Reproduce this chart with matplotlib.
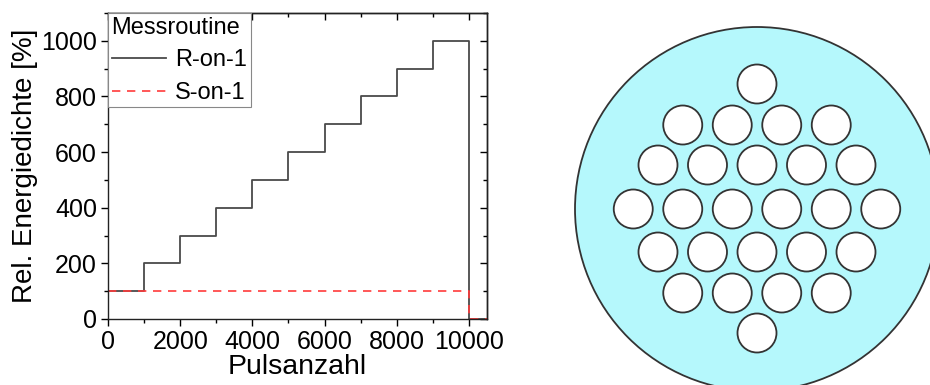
import matplotlib.pyplot as plt
from matplotlib.patches import Circle
from matplotlib.ticker import MultipleLocator

plt.rcParams["font.family"] = ["Liberation Sans", "DejaVu Sans"]

# pulse counts at which the energy level changes, last entry closes the x range
pulses = [0, 1000, 2000, 3000, 4000, 5000, 6000, 7000, 8000, 9000, 10000, 10500]
r_on_1 = [100, 200, 300, 400, 500, 600, 700, 800, 900, 1000, 0, 0]
s_on_1 = [100, 100, 100, 100, 100, 100, 100, 100, 100, 100, 0, 0]

# hole pattern of the sample: holes per row and vertical offset of each row
hole_rows = [1, 4, 5, 6, 5, 4, 1]
row_y = [-125, -84, -44, 0, 43, 84, 124]

fig = plt.figure(figsize=(9.3, 3.85), dpi=100)
ax = fig.add_axes([108 / 930, 66 / 385, 379 / 930, 306 / 385])

ax.plot(pulses, r_on_1, drawstyle="steps-post", color="#4a4a4a", lw=1.3, label="R-on-1")
ax.plot(pulses, s_on_1, drawstyle="steps-post", color="#ff3b3b", lw=1.2,
        ls=(0, (5, 4)), label="S-on-1")

ax.set_xlim(0, 10500)
ax.set_ylim(0, 1100)
ax.xaxis.set_major_locator(MultipleLocator(2000))
ax.xaxis.set_minor_locator(MultipleLocator(1000))
ax.yaxis.set_major_locator(MultipleLocator(200))
ax.yaxis.set_minor_locator(MultipleLocator(100))
ax.tick_params(which="major", direction="out", length=5, width=1, labelsize=18, pad=3)
ax.tick_params(which="minor", direction="out", length=3, width=1)
for s in ax.spines.values():
    s.set_linewidth(1)
    s.set_color("#222222")

# inward ticks on top and right
top = ax.secondary_xaxis("top")
top.xaxis.set_major_locator(MultipleLocator(2000))
top.xaxis.set_minor_locator(MultipleLocator(1000))
right = ax.secondary_yaxis("right")
right.yaxis.set_major_locator(MultipleLocator(200))
right.yaxis.set_minor_locator(MultipleLocator(100))
for sec in (top, right):
    sec.tick_params(which="major", direction="in", length=5, width=1, labeltop=False, labelright=False)
    sec.tick_params(which="minor", direction="in", length=3, width=1)
    for s in sec.spines.values():
        s.set_linewidth(1)

ax.set_xlabel("Pulsanzahl", fontsize=20.5, labelpad=0)
ax.set_ylabel("Rel. Energiedichte [%]", fontsize=20, labelpad=2)

leg = ax.legend(title="Messroutine", loc="upper left", fontsize=17, title_fontsize=17,
                fancybox=False, edgecolor="#888888", framealpha=1, borderaxespad=0,
                handlelength=2.3, alignment="left", borderpad=0.15, labelspacing=0.45,
                handletextpad=0.4)
leg.get_frame().set_linewidth(0.8)

# sample sketch with drilled holes
ax2 = fig.add_axes([560 / 930, 0, 370 / 930, 1])
ax2.set_xlim(560, 930)
ax2.set_ylim(385, 0)
ax2.set_aspect("equal")
ax2.axis("off")

cx, cy, big_r = 757, 209, 182
pitch, hole_r = 49.5, 19.5
ax2.add_patch(Circle((cx, cy), big_r, facecolor="#b5f8fc", edgecolor="#333333", lw=1.3))
for n, dy in zip(hole_rows, row_y):
    for i in range(n):
        dx = (i - (n - 1) / 2) * pitch
        ax2.add_patch(Circle((cx + dx, cy + dy), hole_r, facecolor="white",
                             edgecolor="#333333", lw=1.3))

fig.savefig("out.png", dpi=100)
